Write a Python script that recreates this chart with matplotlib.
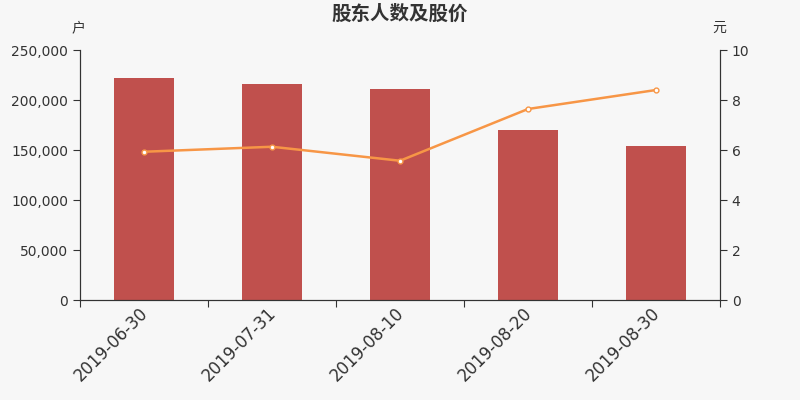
import matplotlib
matplotlib.use("Agg")
import matplotlib.pyplot as plt
import matplotlib.transforms as mtransforms
from matplotlib.ticker import FuncFormatter

plt.rcParams['font.family'] = ['DejaVu Sans', 'Noto Sans CJK SC']

# 数据
dates = ["2019-06-30", "2019-07-31", "2019-08-10", "2019-08-20", "2019-08-30"]
holders = [222000, 216000, 211000, 170000, 154000]
prices = [5.93, 6.13, 5.57, 7.64, 8.40]

bg = "#f7f7f7"
fig = plt.figure(figsize=(8, 4), dpi=100, facecolor=bg)
ax = fig.add_axes([0.1, 0.25, 0.8, 0.625], facecolor=bg)
x = list(range(len(dates)))
ax.bar(x, holders, width=0.47, color="#c0504d", zorder=2)
ax.set_xlim(-0.5, len(dates) - 0.5)
ax.set_ylim(0, 250000)
ax.set_yticks(range(0, 250001, 50000))
ax.yaxis.set_major_formatter(FuncFormatter(lambda v, p: f"{int(v):,}"))

ax2 = ax.twinx()
ax2.plot(x, prices, color="#f79646", lw=1.8, marker="o", ms=3.5,
         mfc="white", mec="#f79646", mew=1, zorder=3)
ax2.set_ylim(0, 10)
ax2.set_yticks(range(0, 11, 2))

# 刻度和边框
ax.set_xticks([i - 0.5 for i in range(len(dates) + 1)], minor=False)
ax.set_xticklabels([""] * (len(dates) + 1))
ax.set_xticks(x, minor=True)
ax.set_xticklabels(dates, minor=True, rotation=45, ha="right",
                   rotation_mode="anchor", fontsize=12, color="#333333")
ax.tick_params(axis="x", which="minor", length=0, pad=3)
shift = mtransforms.ScaledTranslation(-5 / 100, 0, fig.dpi_scale_trans)
for lab in ax.get_xticklabels(minor=True):
    lab.set_transform(lab.get_transform() + shift)
ax.tick_params(axis="x", which="major", length=5, color="#333333")
ax.tick_params(axis="y", length=5, labelsize=10, colors="#333333")
ax2.tick_params(axis="y", length=5, labelsize=10, colors="#333333")
for a in (ax, ax2):
    a.spines["top"].set_visible(False)
    for s in ("left", "right", "bottom"):
        a.spines[s].set_color("#333333")

fig.text(0.5, 0.965, "股东人数及股价", ha="center", va="center",
         fontsize=14, fontweight="bold", color="#333333", family="Noto Sans CJK SC")
fig.text(0.098, 0.93, "户", ha="center", va="center", fontsize=10,
         color="#333333", family="Noto Sans CJK SC")
fig.text(0.899, 0.93, "元", ha="center", va="center", fontsize=10,
         color="#333333", family="Noto Sans CJK SC")

fig.savefig("out.png", dpi=100, facecolor=bg)
